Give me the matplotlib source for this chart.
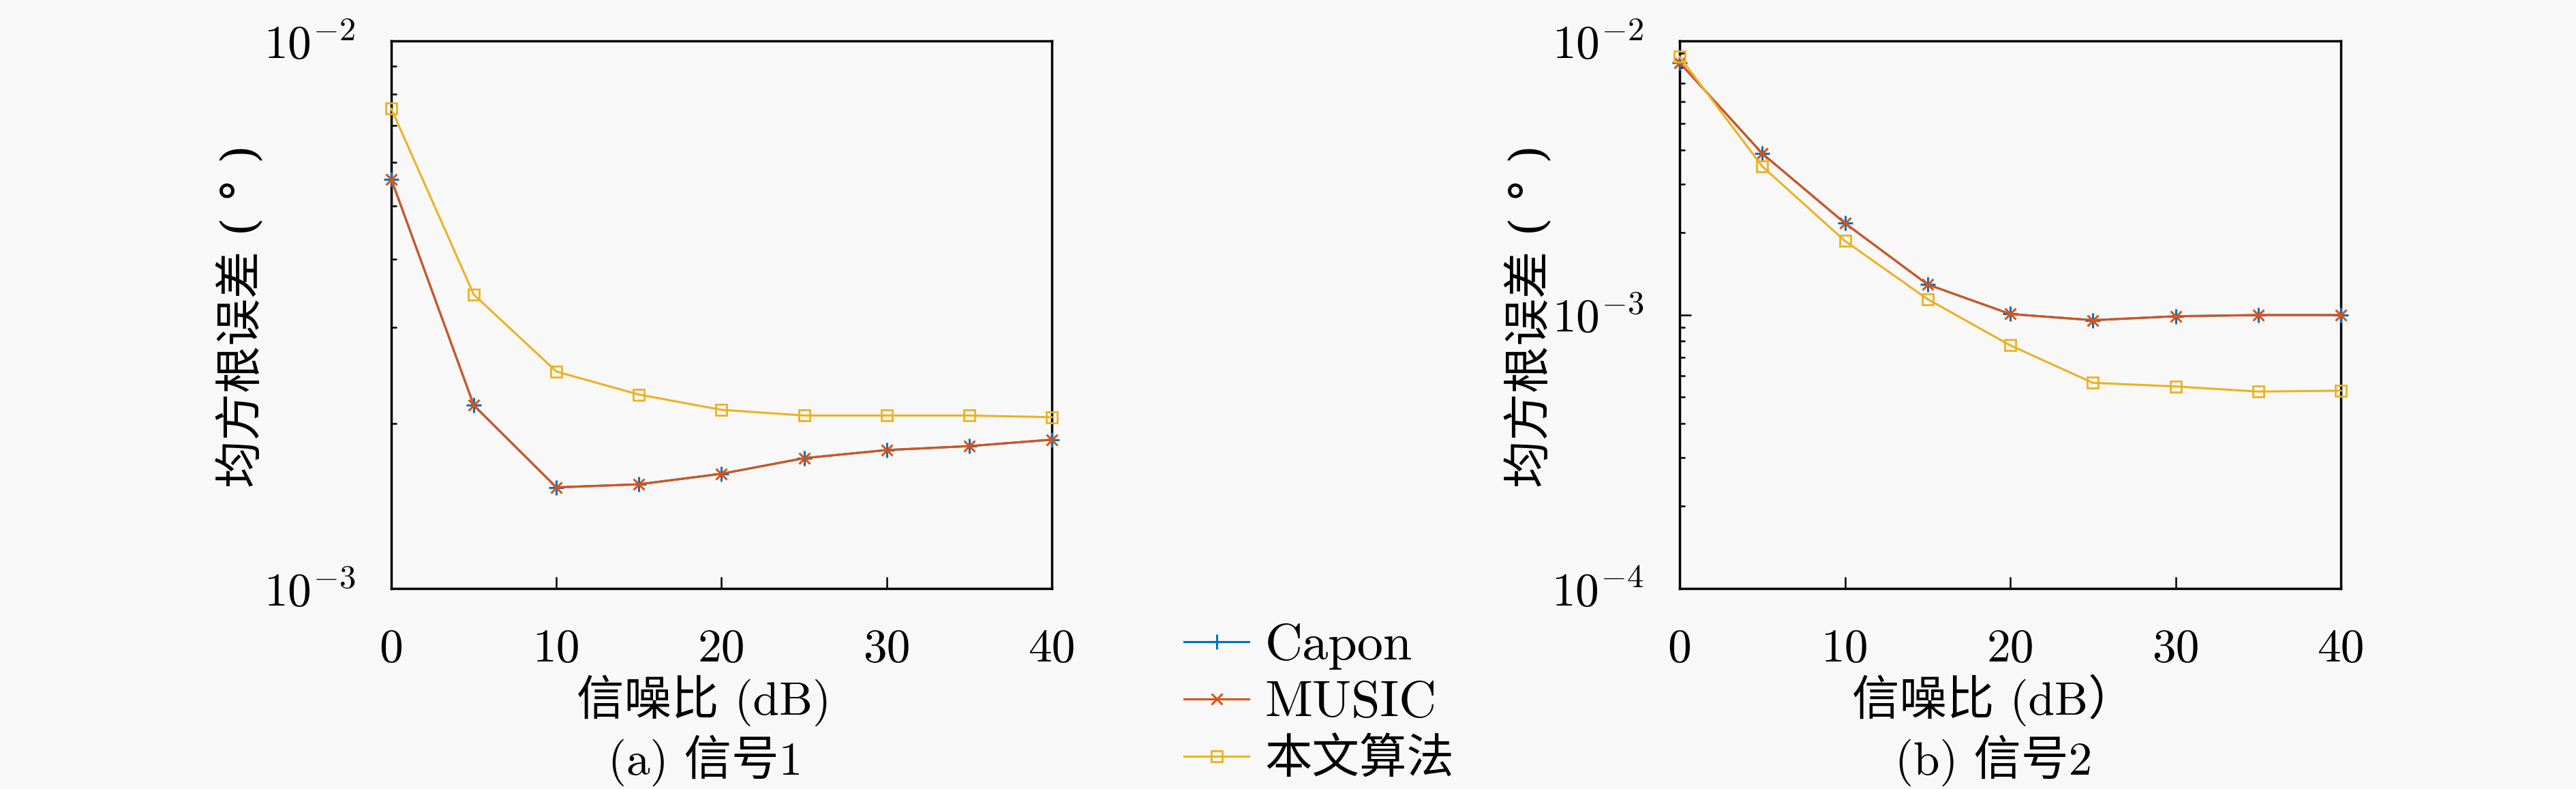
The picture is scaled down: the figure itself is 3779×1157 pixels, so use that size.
import matplotlib
matplotlib.use("Agg")
import matplotlib.pyplot as plt
from matplotlib.ticker import FixedLocator, FixedFormatter, LogLocator, NullFormatter

# ---------------- data ----------------
snr = [0, 5, 10, 15, 20, 25, 30, 35, 40]

capon_1 = [5.59e-3, 2.16e-3, 1.53e-3, 1.55e-3, 1.62e-3, 1.73e-3, 1.79e-3, 1.82e-3, 1.87e-3]
music_1 = [5.59e-3, 2.16e-3, 1.53e-3, 1.55e-3, 1.62e-3, 1.73e-3, 1.79e-3, 1.82e-3, 1.87e-3]
prop_1 = [7.52e-3, 3.44e-3, 2.49e-3, 2.26e-3, 2.12e-3, 2.07e-3, 2.07e-3, 2.07e-3, 2.055e-3]

capon_2 = [8.33e-3, 3.88e-3, 2.16e-3, 1.29e-3, 1.006e-3, 9.55e-4, 9.87e-4, 9.97e-4, 9.97e-4]
music_2 = [8.33e-3, 3.88e-3, 2.16e-3, 1.29e-3, 1.006e-3, 9.55e-4, 9.87e-4, 9.97e-4, 9.97e-4]
prop_2 = [8.75e-3, 3.48e-3, 1.86e-3, 1.14e-3, 7.73e-4, 5.64e-4, 5.47e-4, 5.24e-4, 5.28e-4]

series_names = ["Capon", "MUSIC", "本文算法"]

xticks = [0, 10, 20, 30, 40]
xticklabels = ["0", "10", "20", "30", "40"]
yticks_1 = [1e-3, 1e-2]
yticklabels_1 = [r"$10^{-3}$", r"$10^{-2}$"]
yticks_2 = [1e-4, 1e-3, 1e-2]
yticklabels_2 = [r"$10^{-4}$", r"$10^{-3}$", r"$10^{-2}$"]

ylabel_text = "均方根误差 ( ° )"
xlabel_1 = "信噪比 (dB)"
xlabel_2 = "信噪比 (dB）"
caption_1 = "(a) 信号1"
caption_2 = "(b) 信号2"

# ---------------- style ----------------
plt.rcParams["font.family"] = ["cmr10", "Noto Sans CJK SC", "DejaVu Sans"]
plt.rcParams["mathtext.fontset"] = "cm"
plt.rcParams["axes.unicode_minus"] = False
plt.rcParams["axes.formatter.use_mathtext"] = True

BG = "#f8f8f8"
FS = 50
C_CAPON = "#0072BD"
C_MUSIC = "#D95319"
C_PROP = "#EDB120"

W, H = 3780, 1157
fig = plt.figure(figsize=(W / 100, H / 100), dpi=100, facecolor=BG)

ax_top, ax_bot = 60, 863
def rect(x0, x1):
    return [x0 / W, 1 - ax_bot / H, (x1 - x0) / W, (ax_bot - ax_top) / H]

ax1 = fig.add_axes(rect(574, 1543))
ax2 = fig.add_axes(rect(2464, 3434))

def draw(ax, capon, music, prop, ymin, ymax, yticks, yticklabels):
    ax.set_facecolor(BG)
    l1, = ax.plot(snr, capon, color=C_CAPON, lw=2.2, marker="+", ms=16, mew=2.2,
                  clip_on=False, zorder=3)
    l2, = ax.plot(snr, music, color=C_MUSIC, lw=2.2, marker="x", ms=11, mew=2.2,
                  clip_on=False, zorder=4)
    l3, = ax.plot(snr, prop, color=C_PROP, lw=2.2, marker="s", ms=12, mew=2.0,
                  mfc="none", clip_on=False, zorder=5)
    ax.set_yscale("log")
    ax.set_xlim(0, 40)
    ax.set_ylim(ymin, ymax)
    ax.xaxis.set_major_locator(FixedLocator(xticks))
    ax.xaxis.set_major_formatter(FixedFormatter(xticklabels))
    ax.yaxis.set_major_locator(FixedLocator(yticks))
    ax.yaxis.set_major_formatter(FixedFormatter(yticklabels))
    ax.yaxis.set_minor_locator(LogLocator(base=10, subs=[2, 3, 4, 5, 6, 7, 8, 9]))
    ax.yaxis.set_minor_formatter(NullFormatter())
    ax.tick_params(axis="both", which="both", direction="in", top=False, right=False,
                   labelsize=FS, colors="black")
    ax.tick_params(axis="both", which="major", length=12, width=1.8)
    ax.tick_params(axis="y", which="minor", length=6, width=1.8)
    ax.tick_params(axis="x", which="major", pad=42)
    ax.tick_params(axis="y", which="major", pad=38)
    for s in ax.spines.values():
        s.set_linewidth(2.5)
        s.set_color("black")
    return [l1, l2, l3]

handles = draw(ax1, capon_1, music_1, prop_1, 1e-3, 1e-2, yticks_1, yticklabels_1)
draw(ax2, capon_2, music_2, prop_2, 1e-4, 1e-2, yticks_2, yticklabels_2)

# labels
ymid = 1 - 464 / H
yl_family = ["DejaVu Serif", "Noto Sans CJK SC"]
fig.text(354 / W, ymid, ylabel_text, rotation=90, ha="center", va="center",
         fontsize=FS, family=yl_family)
fig.text(2244 / W, ymid, ylabel_text, rotation=90, ha="center", va="center",
         fontsize=FS, family=yl_family)

fig.text(1033 / W, 1 - 1027 / H, xlabel_1, ha="center", va="center", fontsize=FS)
fig.text(2925 / W, 1 - 1027 / H, xlabel_2, ha="center", va="center", fontsize=FS)
fig.text(1035 / W, 1 - 1115 / H, caption_1, ha="center", va="center", fontsize=FS)
fig.text(2925 / W, 1 - 1115 / H, caption_2, ha="center", va="center", fontsize=FS)

# legend: one row per entry, placed at the reference row centres
row_y = [948, 1032, 1114]
row_fs = [55, 55, 50]
for h, name, yy, fs in zip(handles, series_names, row_y, row_fs):
    fig.legend([h], [name], loc="center left",
               bbox_to_anchor=(1737 / W, 1 - yy / H), frameon=False,
               fontsize=fs, handlelength=1.25 * 55 / fs, handletextpad=0.3 * 55 / fs,
               borderpad=0, borderaxespad=0)

fig.savefig("out.png", dpi=100, facecolor=BG)
